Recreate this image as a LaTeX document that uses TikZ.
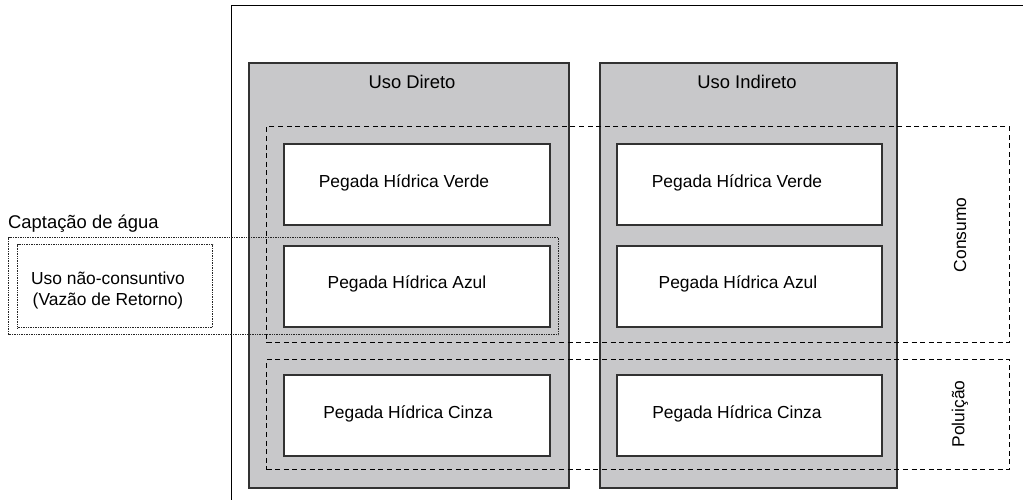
\documentclass[tikz,border=0pt]{standalone}
\usepackage{fontspec}
\setmainfont{Liberation Sans}
\definecolor{colgray}{RGB}{200,200,202}
\definecolor{edge}{RGB}{50,50,50}
\begin{document}
\begin{tikzpicture}[x=1pt,y=-1pt,
  col/.style={draw=edge, fill=colgray, line width=1.6pt, inner sep=0pt, anchor=north west},
  pbox/.style={draw=edge, fill=white, line width=1.6pt, inner sep=0pt, anchor=north west, minimum height=81pt},
  grp/.style={draw=black, line width=1.1pt, dash pattern=on 5pt off 3.6pt, inner sep=0pt, anchor=north west},
  dotbox/.style={draw=black!85, line width=1.2pt, dash pattern=on 1pt off 0.7pt, inner sep=0pt, anchor=north west},
  txt/.style={font=\fontsize{17.4}{21}\selectfont, inner sep=0pt, align=center},
  htxt/.style={font=\fontsize{18.4}{22}\selectfont, inner sep=0pt}]
\useasboundingbox (0,0) rectangle (1023,500);
% outer frame (extends beyond the picture)
\begin{scope}
\clip (0,0) rectangle (1023,500);
\node[draw=black, line width=1.3pt, inner sep=0pt, anchor=north west, minimum width=900pt, minimum height=600pt] (frame) at (231,5) {};
\end{scope}
% columns
\node[col, minimum width=320pt, minimum height=425pt] (dcol) at (248,62) {};
\node[col, minimum width=297pt, minimum height=425pt] (icol) at (599,62) {};
\node[htxt] (dhead) at (412,82) {Uso Direto};
\node[htxt] (ihead) at (747,82) {Uso Indireto};
% white boxes
\node[pbox, minimum width=266pt] (dverde) at (283,143) {};
\node[pbox, minimum width=266pt] (dazul) at (283,245) {};
\node[pbox, minimum width=266pt] (dcinza) at (283,374) {};
\node[pbox, minimum width=265pt] (iverde) at (616,143) {};
\node[pbox, minimum width=265pt] (iazul) at (616,245) {};
\node[pbox, minimum width=265pt] (icinza) at (616,374) {};
\node[txt] (tdverde) at (404,183) {Pegada Hídrica Verde};
\node[txt] (tdazul) at (407,284) {Pegada Hídrica Azul};
\node[txt] (tdcinza) at (408,414) {Pegada Hídrica Cinza};
\node[txt] (tiverde) at (737,183) {Pegada Hídrica Verde};
\node[txt] (tiazul) at (738,284) {Pegada Hídrica Azul};
\node[txt] (ticinza) at (737,414) {Pegada Hídrica Cinza};
% dashed groups
\node[grp, minimum width=743pt, minimum height=216pt] (consumo) at (266,126) {};
\node[grp, minimum width=743pt, minimum height=110pt] (poluicao) at (266,359) {};
\node[txt, rotate=90] (tconsumo) at (960,235) {Consumo};
\node[txt, rotate=90] (tpoluicao) at (960,414) {Poluição};
% captacao
\node[dotbox, minimum width=550pt, minimum height=97pt] (capt) at (8,237) {};
\node[dotbox, minimum width=195pt, minimum height=83pt] (naocons) at (17,244) {};
\node[txt] (tnaocons) at (108,290) {Uso não-consuntivo\\(Vazão de Retorno)};
\node[htxt, anchor=base west] (tcapt) at (8,228) {Captação de água};
\end{tikzpicture}
\end{document}
